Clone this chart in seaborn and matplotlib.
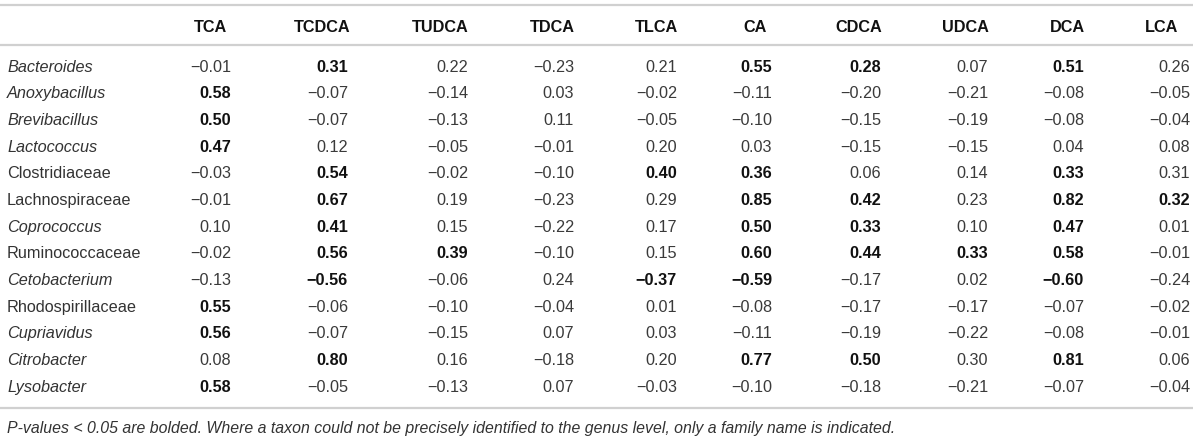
import numpy as np
import pandas as pd
import matplotlib
matplotlib.use("Agg")
import matplotlib.pyplot as plt
import seaborn as sns

# ---------------- data ----------------
columns = ["TCA", "TCDCA", "TUDCA", "TDCA", "TLCA", "CA", "CDCA", "UDCA", "DCA", "LCA"]
taxa = ["Bacteroides", "Anoxybacillus", "Brevibacillus", "Lactococcus", "Clostridiaceae",
        "Lachnospiraceae", "Coprococcus", "Ruminococcaceae", "Cetobacterium",
        "Rhodospirillaceae", "Cupriavidus", "Citrobacter", "Lysobacter"]
taxon_is_genus = [True, True, True, True, False, False, True, False, True, False, True, True, True]

values = [
    [-0.01, 0.31, 0.22, -0.23, 0.21, 0.55, 0.28, 0.07, 0.51, 0.26],
    [0.58, -0.07, -0.14, 0.03, -0.02, -0.11, -0.20, -0.21, -0.08, -0.05],
    [0.50, -0.07, -0.13, 0.11, -0.05, -0.10, -0.15, -0.19, -0.08, -0.04],
    [0.47, 0.12, -0.05, -0.01, 0.20, 0.03, -0.15, -0.15, 0.04, 0.08],
    [-0.03, 0.54, -0.02, -0.10, 0.40, 0.36, 0.06, 0.14, 0.33, 0.31],
    [-0.01, 0.67, 0.19, -0.23, 0.29, 0.85, 0.42, 0.23, 0.82, 0.32],
    [0.10, 0.41, 0.15, -0.22, 0.17, 0.50, 0.33, 0.10, 0.47, 0.01],
    [-0.02, 0.56, 0.39, -0.10, 0.15, 0.60, 0.44, 0.33, 0.58, -0.01],
    [-0.13, -0.56, -0.06, 0.24, -0.37, -0.59, -0.17, 0.02, -0.60, -0.24],
    [0.55, -0.06, -0.10, -0.04, 0.01, -0.08, -0.17, -0.17, -0.07, -0.02],
    [0.56, -0.07, -0.15, 0.07, 0.03, -0.11, -0.19, -0.22, -0.08, -0.01],
    [0.08, 0.80, 0.16, -0.18, 0.20, 0.77, 0.50, 0.30, 0.81, 0.06],
    [0.58, -0.05, -0.13, 0.07, -0.03, -0.10, -0.18, -0.21, -0.07, -0.04],
]
significant = [
    [0, 1, 0, 0, 0, 1, 1, 0, 1, 0],
    [1, 0, 0, 0, 0, 0, 0, 0, 0, 0],
    [1, 0, 0, 0, 0, 0, 0, 0, 0, 0],
    [1, 0, 0, 0, 0, 0, 0, 0, 0, 0],
    [0, 1, 0, 0, 1, 1, 0, 0, 1, 0],
    [0, 1, 0, 0, 0, 1, 1, 0, 1, 1],
    [0, 1, 0, 0, 0, 1, 1, 0, 1, 0],
    [0, 1, 1, 0, 0, 1, 1, 1, 1, 0],
    [0, 1, 0, 0, 1, 1, 0, 0, 1, 0],
    [1, 0, 0, 0, 0, 0, 0, 0, 0, 0],
    [1, 0, 0, 0, 0, 0, 0, 0, 0, 0],
    [0, 1, 0, 0, 0, 1, 1, 0, 1, 0],
    [1, 0, 0, 0, 0, 0, 0, 0, 0, 0],
]
footnote = ("P-values < 0.05 are bolded. Where a taxon could not be precisely identified "
            "to the genus level, only a family name is indicated.")

df = pd.DataFrame(values, index=taxa, columns=columns)
sig = pd.DataFrame(significant, index=taxa, columns=columns).astype(bool)

# ---------------- layout / style ----------------
sns.set_theme(style="white")
FAM = ["Liberation Sans", "DejaVu Sans"]
plt.rcParams["font.family"] = FAM

W, H = 1200, 437
fig = plt.figure(figsize=(W / 100, H / 100), dpi=100)
ax = fig.add_axes([0, 0, 1, 1])
ax.set_xlim(0, W)
ax.set_ylim(H, 0)
ax.axis("off")

val_right = [231, 348, 468, 574, 677, 772, 881, 988, 1084, 1190]
head_right = [227, 350, 469, 575, 678, 767, 882, 989, 1085, 1178]
label_x = 7
header_y = 27
row_y0, row_dy = 67, 26.67
rule_color = "#d0d0d0"
fs = 11.7

def fmt(v):
    s = f"{abs(v):.2f}"
    return ("\u2212" + s) if v < 0 else s

# rules
for y in (5, 45, 408):
    ax.plot([0, 1193], [y, y], color=rule_color, lw=1.6, solid_capstyle="butt")

# header
for c, xr in zip(columns, head_right):
    ax.text(xr, header_y, c, ha="right", va="center", fontsize=fs,
            fontweight="bold", color="#111111")

# body
for i, t in enumerate(taxa):
    y = row_y0 + i * row_dy
    ax.text(label_x, y, t, ha="left", va="center", fontsize=fs,
            style="italic" if taxon_is_genus[i] else "normal", color="#333333")
    for j, c in enumerate(columns):
        b = bool(sig.loc[t, c])
        ax.text(val_right[j], y, fmt(df.loc[t, c]), ha="right", va="center",
                fontsize=fs, fontweight="bold" if b else "normal",
                color="#111111" if b else "#3a3a3a")

ax.text(label_x, 428, footnote, ha="left", va="center", fontsize=11.4,
        style="italic", color="#333333")

fig.savefig("out.png", dpi=100, facecolor="white")
